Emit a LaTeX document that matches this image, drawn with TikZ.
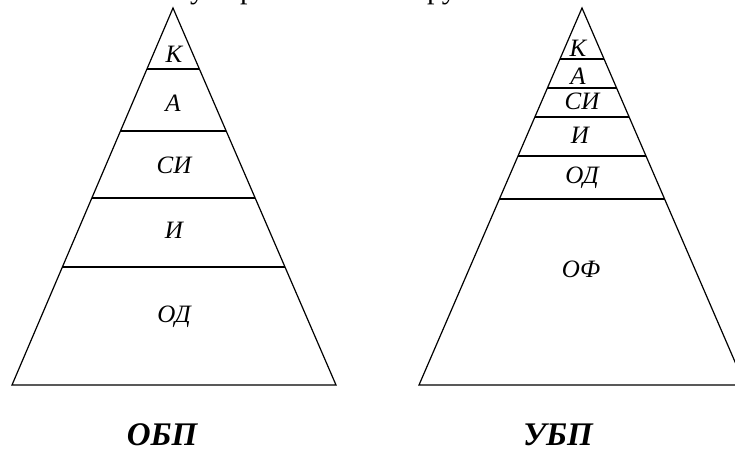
\documentclass[tikz,border=0pt]{standalone}
\usepackage{fontspec}
\setmainfont{Liberation Serif}
\usetikzlibrary{calc}
\begin{document}
\begin{tikzpicture}[x=1pt,y=-1pt,
  edge/.style={line width=1.2pt,line join=miter},
  lab/.style={anchor=base,inner sep=0pt,font=\fontsize{25}{25}\selectfont\itshape},
  title/.style={anchor=base,inner sep=0pt,font=\fontsize{33}{33}\selectfont\bfseries\itshape},
  cut/.style={anchor=base west,inner sep=0pt,font=\fontsize{30}{30}\selectfont}]
\useasboundingbox (0,0) rectangle (735,449);
\clip (0,0) rectangle (735,449);
% cut-off line of text at the top
\node[cut] (t1) at (190,-1) {у};
\node[cut] (t2) at (240,-1) {р};
\node[cut] (t3) at (427,-1) {ру};
% left pyramid
\coordinate (La) at (173,8);
\coordinate (Lb) at (12,385);
\coordinate (Lc) at (336,385);
\draw[edge] (La) -- (Lb) -- (Lc) -- cycle;
\foreach \t in {0.1618,0.3263,0.5040,0.6870}
  \draw[edge] ($(La)!\t!(Lb)$) -- ($(La)!\t!(Lc)$);
\node[lab] (lk) at (174,63) {К};
\node[lab] (la) at (173,112) {А};
\node[lab] (lsi) at (174,173) {СИ};
\node[lab] (li) at (174,238) {И};
\node[lab] (lod) at (174,322) {ОД};
\node[title] (lt) at (162,445) {ОБП};
% right pyramid
\coordinate (Ra) at (582,8);
\coordinate (Rb) at (419,385);
\coordinate (Rc) at (745,385);
\draw[edge] (Ra) -- (Rb) -- (Rc) -- cycle;
\foreach \t in {0.1353,0.2122,0.2891,0.3926,0.5066}
  \draw[edge] ($(Ra)!\t!(Rb)$) -- ($(Ra)!\t!(Rc)$);
\node[lab] (rk) at (578,57) {К};
\node[lab] (ra) at (578,85) {А};
\node[lab] (rsi) at (582,110) {СИ};
\node[lab] (ri) at (580,144) {И};
\node[lab] (rod) at (582,183) {ОД};
\node[lab] (rof) at (581,277) {ОФ};
\node[title] (rt) at (558,445) {УБП};
\end{tikzpicture}
\end{document}
